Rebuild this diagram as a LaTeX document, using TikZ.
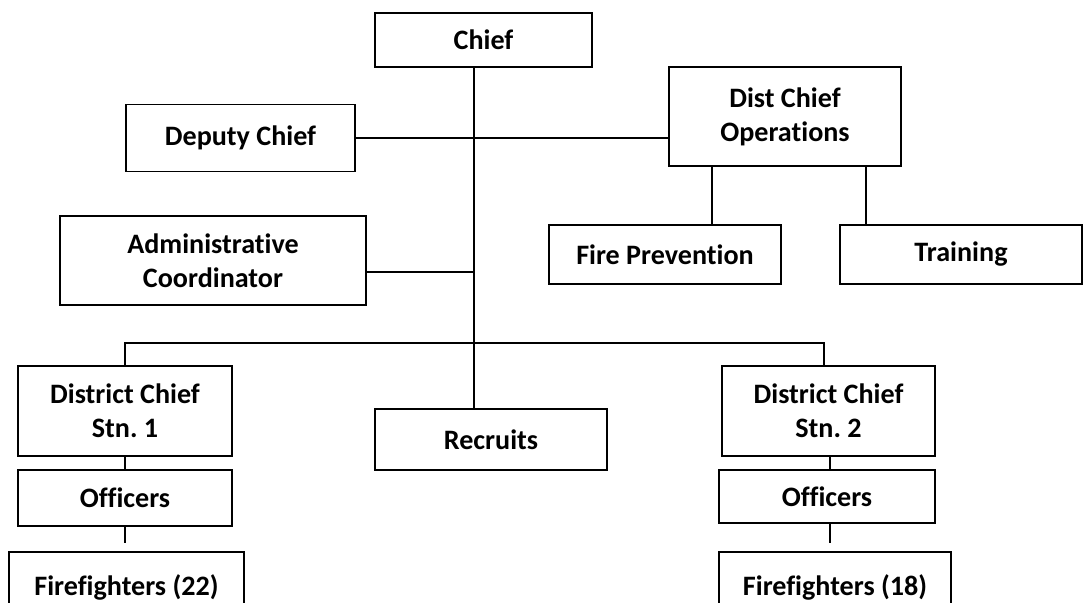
\documentclass[tikz,border=0pt]{standalone}
\usepackage{fontspec}
\setmainfont{Carlito}[Ligatures=NoCommon]
\frenchspacing
\begin{document}
\begin{tikzpicture}[
  x=0.02cm, y=-0.02cm,
  orgbox/.style={rectangle, draw, line width=1pt, inner sep=0pt, align=center,
    font=\bfseries\fontsize{16}{19.5}\selectfont},
  orgline/.style={line width=0.8pt}
]
\clip (0,0) rectangle (1084,602);

% Boxes
\node[orgbox, minimum width=4.34cm, minimum height=1.08cm] (chief) at (483.5,40) {Chief};
\node[orgbox, minimum width=4.58cm, minimum height=1.34cm] (deputy) at (240.5,138) {Deputy Chief};
\node[orgbox, minimum width=4.64cm, minimum height=1.98cm] (distops) at (785,116.5) {Dist Chief\\Operations};
\node[orgbox, minimum width=6.12cm, minimum height=1.78cm] (admin) at (213,260.5) {Administrative\\Coordinator};
\node[orgbox, minimum width=4.64cm, minimum height=1.18cm] (fireprev) at (665,254.5) {Fire Prevention};
\node[orgbox, minimum width=4.84cm, minimum height=1.18cm] (training) at (961,254.5) {Training};
\node[orgbox, minimum width=4.28cm, minimum height=1.80cm] (stn1) at (125,411) {District Chief\\Stn. 1};
\node[orgbox, minimum width=4.64cm, minimum height=1.22cm] (recruits) at (491,439.5) {Recruits};
\node[orgbox, minimum width=4.26cm, minimum height=1.80cm] (stn2) at (828.5,411) {District Chief\\Stn. 2};
\node[orgbox, minimum width=4.28cm, minimum height=1.12cm] (off1) at (125,498) {Officers};
\node[orgbox, minimum width=4.32cm, minimum height=1.06cm] (off2) at (827,496.5) {Officers};
\node[orgbox, minimum width=4.70cm, minimum height=1.40cm] (ff1) at (126.5,587) {Firefighters (22)};
\node[orgbox, minimum width=4.64cm, minimum height=1.40cm] (ff2) at (835,587) {Firefighters (18)};

% Join points
\coordinate (trunk) at (474,343);
\coordinate (adminjoin) at (474,272);
\coordinate (fpcol) at (712,0);
\coordinate (trcol) at (866,0);
\coordinate (col1) at (125,0);
\coordinate (col2) at (824,0);

% Lines
\draw[orgline] (chief.south -| trunk) -- (recruits.north -| trunk);
\draw[orgline] (deputy.east) -- (deputy.east -| distops.west);
\draw[orgline] (admin.east |- adminjoin) -- (adminjoin);
\draw[orgline] (distops.south -| fpcol) -- (fireprev.north -| fpcol);
\draw[orgline] (distops.south -| trcol) -- (training.north -| trcol);
\draw[orgline] (stn1.north -| col1) -- (col1 |- trunk) -- (col2 |- trunk) -- (stn2.north -| col2);
\draw[orgline] (stn1.south) -- (stn1.south |- off1.north);
\draw[orgline] (stn2.south -| 830,0) -- (off2.north -| 830,0);
\draw[orgline, shorten >=0.16cm] (off1.south) -- (off1.south |- ff1.north);
\draw[orgline, shorten >=0.16cm] (off2.south -| 830,0) -- (ff2.north -| 830,0);

\end{tikzpicture}
\end{document}
